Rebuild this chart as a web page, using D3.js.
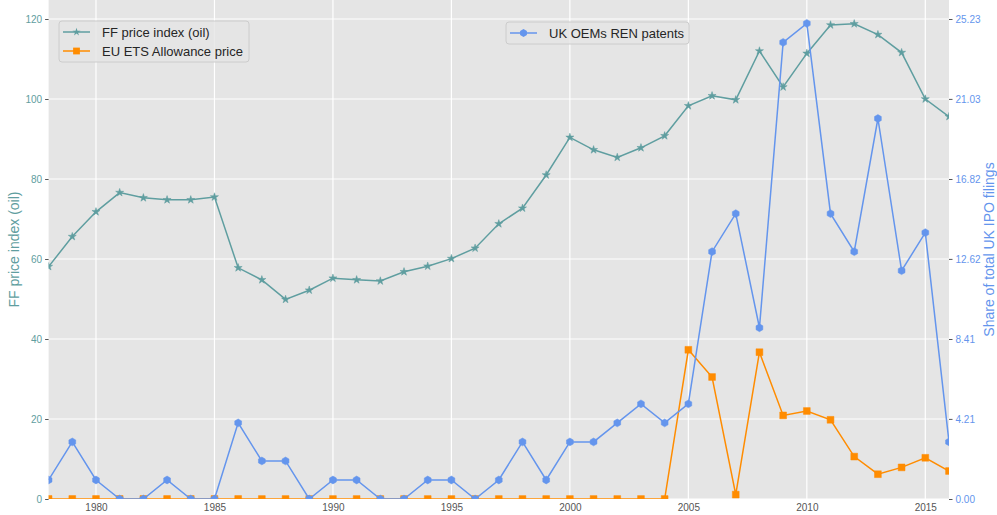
<!DOCTYPE html>
<html>
<head>
<meta charset="utf-8">
<script src="https://cdn.jsdelivr.net/npm/d3@7"></script>
<style>
  body { margin: 0; background: #fff; }
  text { font-family: "Liberation Sans", Arial, sans-serif; }
</style>
</head>
<body>
<div id="chart"></div>
<script>
// chart data
var years = d3.range(1978, 2017);
var ffPrice = [58.1, 65.6, 71.8, 76.6, 75.3, 74.8, 74.8, 75.5, 57.8, 54.8, 49.9, 52.2, 55.2, 54.8, 54.5,
  56.8, 58.2, 60.1, 62.7, 68.8, 72.7, 81.0, 90.4, 87.3, 85.4, 87.8, 90.8, 98.3, 100.8, 99.8,
  112.0, 103.0, 111.4, 118.5, 118.8, 116.1, 111.6, 100.0, 95.6];
var etsPrice = [0, 0, 0, 0, 0, 0, 0, 0, 0, 0, 0, 0, 0, 0, 0, 0, 0, 0, 0, 0, 0, 0, 0, 0, 0, 0, 0,
  37.3, 30.5, 1.1, 36.7, 20.9, 22.0, 19.8, 10.6, 6.2, 7.9, 10.3, 7.0];
var renPatents = [1, 3, 1, 0, 0, 1, 0, 0, 4, 2, 2, 0, 1, 1, 0, 0, 1, 1, 0, 1, 3, 1, 3, 3, 4, 5,
  4, 5, 13, 15, 9, 24, 25, 15, 13, 20, 12, 14, 3];
var xTicks = [1980, 1985, 1990, 1995, 2000, 2005, 2010, 2015];
var leftTicks = [0, 20, 40, 60, 80, 100, 120];
var rightTicks = [0.00, 4.21, 8.41, 12.62, 16.82, 21.03, 25.23];

var svgWidth = 997;
var svgHeight = 515;
var margin = { top: 0, right: 48, bottom: 16, left: 48.6 };
var chartWidth = svgWidth - margin.left - margin.right;
var chartHeight = svgHeight - margin.top - margin.bottom;

var teal = "#5f9ea0";
var orange = "#ff8c00";
var blue = "#6495ed";

var svg = d3.select("#chart").append("svg")
  .attr("width", svgWidth)
  .attr("height", svgHeight);

var chartGroup = svg.append("g")
  .attr("transform", `translate(${margin.left}, ${margin.top})`);

var xScale = d3.scaleLinear().domain([1978, 2016]).range([0, chartWidth]);
var yLeft = d3.scaleLinear().domain([0, 120 * chartHeight / (chartHeight - 19)]).range([chartHeight, 0]);
var yRight = d3.scaleLinear().domain([0, 25.23 * chartHeight / (chartHeight - 19)]).range([chartHeight, 0]);

// background and grid
chartGroup.append("rect")
  .attr("width", chartWidth).attr("height", chartHeight)
  .attr("fill", "#e5e5e5");

chartGroup.selectAll(".hgrid").data(leftTicks).enter().append("line")
  .attr("x1", 0).attr("x2", chartWidth)
  .attr("y1", d => yLeft(d)).attr("y2", d => yLeft(d))
  .attr("stroke", "#fff").attr("stroke-width", 1.2);

chartGroup.selectAll(".vgrid").data(xTicks).enter().append("line")
  .attr("x1", d => xScale(d)).attr("x2", d => xScale(d))
  .attr("y1", 0).attr("y2", chartHeight)
  .attr("stroke", "#fff").attr("stroke-width", 1.2);

// axes
var xAxisG = chartGroup.append("g")
  .attr("transform", `translate(0,${chartHeight})`)
  .call(d3.axisBottom(xScale).tickValues(xTicks).tickFormat(d3.format("d")).tickSize(0).tickPadding(5));
xAxisG.select(".domain").remove();
xAxisG.selectAll("text").attr("fill", "#555").attr("font-size", "10px");

var yAxisG = chartGroup.append("g")
  .call(d3.axisLeft(yLeft).tickValues(leftTicks).tickSize(3.5).tickPadding(3));
yAxisG.select(".domain").remove();
yAxisG.selectAll("line").attr("stroke", "#555");
yAxisG.selectAll("text").attr("fill", teal).attr("font-size", "10px");

var yAxisRG = chartGroup.append("g")
  .attr("transform", `translate(${chartWidth},0)`)
  .call(d3.axisRight(yRight).tickValues(rightTicks).tickFormat(d3.format(".2f")).tickSize(3.5).tickPadding(3));
yAxisRG.select(".domain").remove();
yAxisRG.selectAll("line").attr("stroke", "#555");
yAxisRG.selectAll("text").attr("fill", blue).attr("font-size", "10px");

// axis labels
svg.append("text")
  .attr("transform", `translate(19,${margin.top + chartHeight / 2}) rotate(-90)`)
  .attr("text-anchor", "middle")
  .attr("font-size", "14px")
  .attr("fill", teal)
  .text("FF price index (oil)");

svg.append("text")
  .attr("transform", `translate(994,${margin.top + chartHeight / 2}) rotate(-90)`)
  .attr("text-anchor", "middle")
  .attr("font-size", "14px")
  .attr("fill", blue)
  .text("Share of total UK IPO filings");

// clip to plot area
svg.append("defs").append("clipPath").attr("id", "plotClip")
  .append("rect").attr("width", chartWidth).attr("height", chartHeight);

var plot = chartGroup.append("g").attr("clip-path", "url(#plotClip)");

var hexagon = {
  draw: function(ctx, size) {
    var r = Math.sqrt(size / 2.598);
    for (var i = 0; i < 6; i++) {
      var a = Math.PI / 3 * i - Math.PI / 2;
      if (i === 0) ctx.moveTo(r * Math.cos(a), r * Math.sin(a));
      else ctx.lineTo(r * Math.cos(a), r * Math.sin(a));
    }
    ctx.closePath();
  }
};

var series = [
  { values: ffPrice, scale: yLeft, color: teal, symbol: d3.symbolStar, size: 20, label: "FF price index (oil)" },
  { values: etsPrice, scale: yLeft, color: orange, symbol: d3.symbolSquare, size: 46, label: "EU ETS Allowance price" },
  { values: renPatents, scale: yRight, color: blue, symbol: hexagon, size: 40, label: "UK OEMs REN patents" }
];

series.forEach(function(s) {
  var line = d3.line()
    .x((d, i) => xScale(years[i]))
    .y(d => s.scale(d));
  plot.append("path")
    .datum(s.values)
    .attr("fill", "none")
    .attr("stroke", s.color)
    .attr("stroke-width", 1.5)
    .attr("d", line);
  plot.selectAll(null).data(s.values).enter().append("path")
    .attr("transform", (d, i) => `translate(${xScale(years[i])},${s.scale(d)})`)
    .attr("d", d3.symbol().type(s.symbol).size(s.size))
    .attr("fill", s.color)
    .attr("stroke", s.color)
    .attr("stroke-opacity", 0.5)
    .attr("stroke-width", 1);
});

// legends
function drawLegend(x, y, w, items) {
  var g = svg.append("g").attr("transform", `translate(${x},${y})`);
  g.append("rect")
    .attr("width", w).attr("height", 3 + items.length * 19)
    .attr("rx", 3)
    .attr("fill", "#e5e5e5").attr("fill-opacity", 0.8)
    .attr("stroke", "#cccccc");
  items.forEach(function(s, i) {
    var cy = 11 + i * 19;
    g.append("line")
      .attr("x1", 4).attr("x2", 31).attr("y1", cy).attr("y2", cy)
      .attr("stroke", s.color).attr("stroke-width", 1.5);
    g.append("path")
      .attr("transform", `translate(17.5,${cy})`)
      .attr("d", d3.symbol().type(s.symbol).size(s.size))
      .attr("fill", s.color);
    g.append("text")
      .attr("x", 43).attr("y", cy).attr("dy", "0.35em")
      .attr("font-size", "13px").attr("fill", "#262626")
      .text(s.label);
  });
}

drawLegend(59, 21, 190, [series[0], series[1]]);
drawLegend(506, 22, 183, [series[2]]);
</script>
</body>
</html>
